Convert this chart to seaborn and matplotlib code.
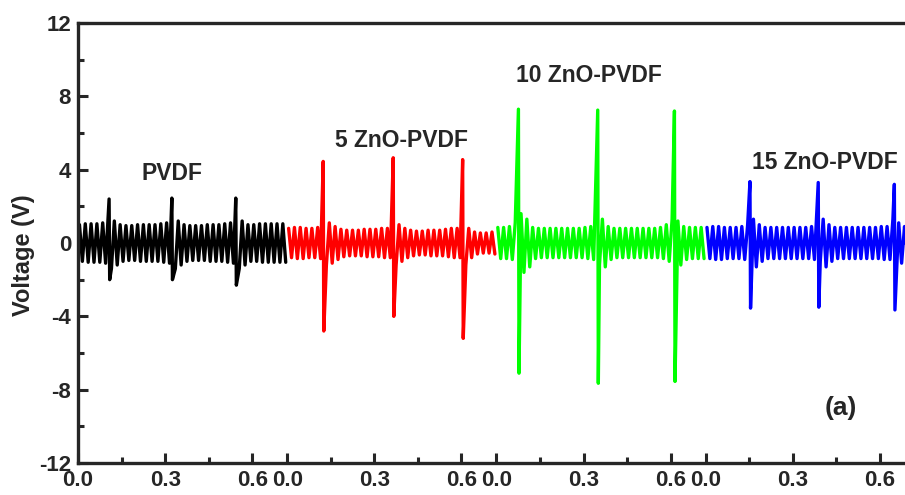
"""Output voltage of PVDF and ZnO-PVDF films, four recordings side by side."""

import numpy as np
import pandas as pd
import seaborn as sns
import matplotlib.pyplot as plt
from matplotlib.ticker import FixedLocator, FixedFormatter

# --- data ---
samples = ['PVDF', '5 ZnO-PVDF', '10 ZnO-PVDF', '15 ZnO-PVDF']
colors = ['#000000', '#ff0000', '#00ff00', '#0000ff']
segment_len = 0.72   # s, length of each recording
period = 0.02        # s, ripple period

# ripple amplitude per cycle (V)
pvdf_amp = [1.0, 1.05, 1.05, 1.05, 1.1, 1.4, 1.2, 1.0, 0.95, 0.95,
            1.0, 1.0, 1.0, 1.0, 1.05, 1.1, 1.4, 1.2, 1.0, 0.95,
            0.95, 0.95, 1.0, 1.0, 1.0, 1.05, 1.1, 1.4, 1.2, 1.0,
            1.0, 1.05, 1.05, 1.05, 1.05, 1.05]
zno5_amp = [0.8, 0.85, 0.85, 0.8, 0.8, 0.85, 1.2, 1.1, 0.9, 0.75,
            0.7, 0.7, 0.7, 0.75, 0.75, 0.75, 0.8, 0.8, 1.2, 1.0,
            0.8, 0.7, 0.65, 0.65, 0.7, 0.7, 0.7, 0.75, 0.8, 0.8,
            1.2, 0.8, 0.6, 0.55, 0.55, 0.6]
zno10_amp = [0.85, 0.85, 0.9, 1.1, 1.6, 1.3, 0.85, 0.8, 0.8, 0.8,
             0.8, 0.8, 0.8, 0.8, 0.8, 0.85, 0.9, 1.2, 1.3, 0.9,
             0.8, 0.8, 0.8, 0.8, 0.8, 0.8, 0.8, 0.8, 0.85, 1.0,
             1.3, 1.2, 0.9, 0.85, 0.85, 0.85]
zno15_amp = [0.85, 0.9, 0.9, 0.85, 0.85, 0.85, 0.9, 1.0, 1.3, 1.0,
             0.85, 0.85, 0.85, 0.85, 0.85, 0.85, 0.85, 0.85, 0.9, 1.0,
             1.3, 1.0, 0.85, 0.85, 0.85, 0.85, 0.85, 0.85, 0.85, 0.85,
             0.9, 0.9, 1.3, 1.1, 0.9, 0.9]

# press/release spikes: time within recording (s), max and min voltage (V)
pvdf_spk_t = [0.107, 0.323, 0.543]
pvdf_spk_hi = [2.4, 2.45, 2.45]
pvdf_spk_lo = [-2.0, -2.0, -2.3]

zno5_spk_t = [0.124, 0.365, 0.604]
zno5_spk_hi = [4.45, 4.65, 4.55]
zno5_spk_lo = [-4.8, -4.0, -5.2]

zno10_spk_t = [0.076, 0.349, 0.613]
zno10_spk_hi = [7.3, 7.25, 7.2]
zno10_spk_lo = [-7.1, -7.65, -7.55]

zno15_spk_t = [0.153, 0.388, 0.650]
zno15_spk_hi = [3.35, 3.3, 3.2]
zno15_spk_lo = [-3.55, -3.5, -3.65]

tick_values = [0.0, 0.3, 0.6]
tick_labels = ['0.0', '0.3', '0.6']
minor_values = [0.15, 0.45]


def build_trace(amp, spk_t, spk_hi, spk_lo):
    t, v = [], []
    for i, a in enumerate(amp):
        t += [i * period + period / 4, i * period + 3 * period / 4]
        v += [a, -a]
    t, v = np.array(t), np.array(v)
    keep = np.ones(len(t), dtype=bool)
    for ts in spk_t:
        keep &= ~((t > ts - 0.004) & (t < ts + 0.006))
    t = np.concatenate([t[keep], spk_t, np.array(spk_t) + 0.002])
    v = np.concatenate([v[keep], spk_hi, spk_lo])
    order = np.argsort(t)
    return t[order], v[order]


traces = [
    build_trace(pvdf_amp, pvdf_spk_t, pvdf_spk_hi, pvdf_spk_lo),
    build_trace(zno5_amp, zno5_spk_t, zno5_spk_hi, zno5_spk_lo),
    build_trace(zno10_amp, zno10_spk_t, zno10_spk_hi, zno10_spk_lo),
    build_trace(zno15_amp, zno15_spk_t, zno15_spk_hi, zno15_spk_lo),
]

frames = []
for k, (name, (t, v)) in enumerate(zip(samples, traces)):
    frames.append(pd.DataFrame({'t': t + k * segment_len, 'v': v, 'sample': name}))
df = pd.concat(frames, ignore_index=True)

sns.set_style('ticks')
plt.rcParams['font.family'] = ['Liberation Sans', 'DejaVu Sans']
plt.rcParams['font.weight'] = 'bold'
plt.rcParams['axes.labelweight'] = 'bold'
plt.rcParams['axes.unicode_minus'] = False

fig = plt.figure(figsize=(9.05, 4.95), dpi=100)
ax = fig.add_axes([0.0862, 0.0646, 0.9245, 0.8889])

sns.lineplot(data=df, x='t', y='v', hue='sample', hue_order=samples,
             palette=dict(zip(samples, colors)), sort=False, estimator=None,
             linewidth=2.4, solid_joinstyle='round', legend=False, ax=ax)

ax.set_xlim(0, 4 * segment_len)
ax.set_ylim(-12, 12)

major = [k * segment_len + p for k in range(4) for p in tick_values]
minor = [k * segment_len + p for k in range(4) for p in minor_values]
ax.xaxis.set_major_locator(FixedLocator(major))
ax.xaxis.set_major_formatter(FixedFormatter(tick_labels * 4))
ax.xaxis.set_minor_locator(FixedLocator(minor))
ax.set_yticks(np.arange(-12, 13, 4))
ax.set_yticks(np.arange(-10, 12, 4), minor=True)

ax.tick_params(which='major', direction='in', length=7, width=2.2,
               labelsize=16, pad=5)
ax.tick_params(which='minor', direction='in', length=4, width=2.2)
for s in ax.spines.values():
    s.set_linewidth(2.4)

ax.set_xlabel('')
ax.set_ylabel('Voltage (V)', fontsize=17)
ax.yaxis.set_label_coords(-0.052, 0.473)

ax.text(0.324, 3.8, 'PVDF', ha='center', va='center', fontsize=16.5)
ax.text(1.112, 5.6, '5 ZnO-PVDF', ha='center', va='center', fontsize=16.5)
ax.text(1.759, 9.15, '10 ZnO-PVDF', ha='center', va='center', fontsize=16.5)
ax.text(2.571, 4.4, '15 ZnO-PVDF', ha='center', va='center', fontsize=16.5)
ax.text(2.626, -9.0, '(a)', ha='center', va='center', fontsize=19)

fig.savefig('out.png', dpi=100)
